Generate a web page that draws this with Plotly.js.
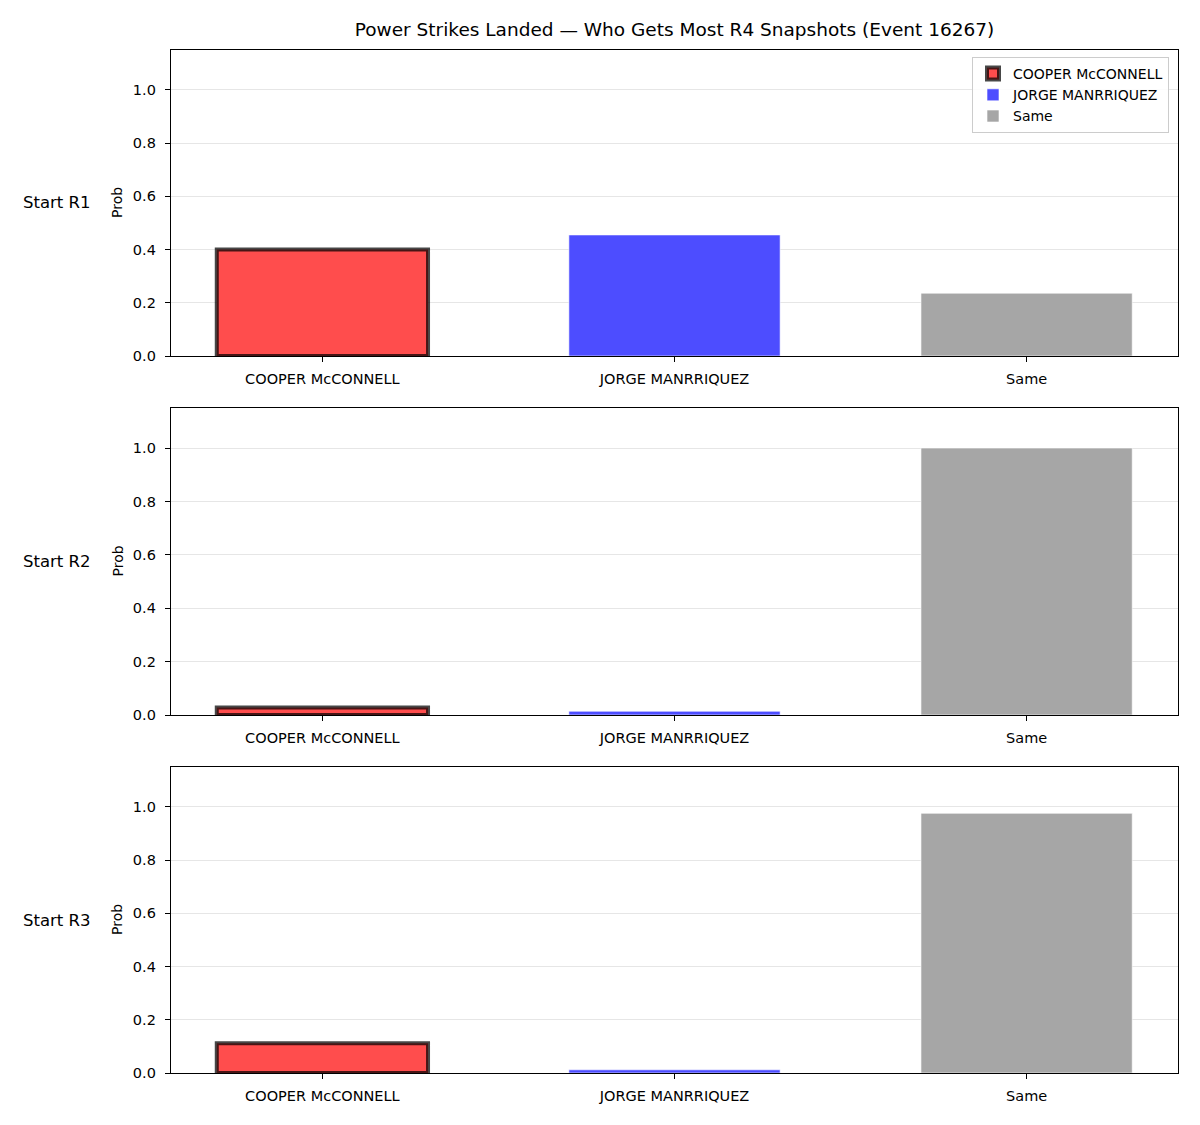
<!DOCTYPE html>
<html>
<head>
<meta charset="utf-8">
<script src="https://cdn.plot.ly/plotly-3.0.1.min.js"></script>
<style>html,body{margin:0;padding:0;background:#fff;}</style>
</head>
<body>
<div id="chart" style="width:1200px;height:1125px;"></div>
<script>
// Outcome categories shown on every panel
const categories = ["COOPER McCONNELL", "JORGE MANRRIQUEZ", "Same"];
// Snapshot rounds (one panel each)
const rowLabels = ["Start R1", "Start R2", "Start R3"];
// Probability per category, one array per starting round
const probR1 = [0.40, 0.455, 0.236];
const probR2 = [0.028, 0.014, 1.0];
const probR3 = [0.112, 0.012, 0.976];
const yTickVals = [0, 0.2, 0.4, 0.6, 0.8, 1.0];

const allProbs = [probR1, probR2, probR3];

const W = 1200, H = 1125;
const fontFam = "DejaVu Sans, sans-serif";
const fills = ["#ff4d4d", "#4d4dff", "#a6a6a6"];
const edges = [
  {color: "rgba(0,0,0,0.72)", width: 4},
  {color: "rgba(255,255,255,0.6)", width: 1},
  {color: "rgba(255,255,255,0.6)", width: 1}
];

// panel pixel extents (top, bottom)
const panels = [[50, 356], [408, 715], [767, 1073]];
const xDom = [171 / W, 1178 / W];

const traces = [];
allProbs.forEach((vals, p) => {
  const sfx = p === 0 ? "" : String(p + 1);
  categories.forEach((cat, i) => {
    traces.push({
      type: "bar",
      x: [cat],
      y: [vals[i]],
      name: cat,
      legendgroup: cat,
      showlegend: p === 0,
      width: 0.6,
      marker: {color: fills[i], line: edges[i]},
      xaxis: "x" + sfx,
      yaxis: "y" + sfx,
      hoverinfo: "x+y"
    });
  });
});

const layout = {
  width: W, height: H,
  margin: {l: 0, r: 0, t: 0, b: 0},
  paper_bgcolor: "#fff",
  plot_bgcolor: "#fff",
  barmode: "overlay",
  font: {family: fontFam, size: 14, color: "#000"},
  title: {
    text: "Power Strikes Landed — Who Gets Most R4 Snapshots (Event 16267)",
    font: {family: fontFam, size: 18.5, color: "#000"},
    x: 0.5 * (xDom[0] + xDom[1]), xanchor: "center",
    y: 1 - 30 / H, yanchor: "middle"
  },
  legend: {
    x: 1169 / W, xanchor: "right",
    y: 1 - 57 / H, yanchor: "top",
    bgcolor: "rgba(255,255,255,0.85)",
    bordercolor: "#cccccc", borderwidth: 1,
    font: {family: fontFam, size: 14, color: "#000"},
    tracegroupgap: 0
  },
  annotations: [],
  showlegend: true
};

panels.forEach((pp, p) => {
  const sfx = p === 0 ? "" : String(p + 1);
  const yDom = [1 - pp[1] / H, 1 - pp[0] / H];
  layout["xaxis" + sfx] = {
    domain: xDom,
    anchor: "y" + sfx,
    type: "category",
    categoryorder: "array",
    categoryarray: categories,
    range: [-0.43, 2.43],
    showline: true, mirror: true, linecolor: "#000", linewidth: 1.2,
    ticks: "outside", ticklen: 5, tickwidth: 1, tickcolor: "#000",
    ticklabelstandoff: 4,
    showgrid: false, zeroline: false,
    tickfont: {family: fontFam, size: 14.5, color: "#000"},
    fixedrange: true
  };
  layout["yaxis" + sfx] = {
    domain: yDom,
    anchor: "x" + sfx,
    range: [0, 1.15],
    tickvals: yTickVals,
    tickformat: ".1f",
    showline: true, mirror: true, linecolor: "#000", linewidth: 1.2,
    ticks: "outside", ticklen: 5, tickwidth: 1, tickcolor: "#000",
    ticklabelstandoff: 6,
    showgrid: true, gridcolor: "#e6e6e6", gridwidth: 1,
    zeroline: false,
    tickfont: {family: fontFam, size: 14.5, color: "#000"},
    fixedrange: true
  };
  const midY = 1 - ((pp[0] + pp[1]) / 2) / H;
  layout.annotations.push({
    xref: "paper", yref: "paper",
    x: 57 / W, y: midY, xanchor: "center", yanchor: "middle",
    text: rowLabels[p], showarrow: false,
    font: {family: fontFam, size: 16.5, color: "#000"}
  });
  layout.annotations.push({
    xref: "paper", yref: "paper",
    x: 117 / W, y: midY, xanchor: "center", yanchor: "middle",
    text: "Prob", textangle: -90, showarrow: false,
    font: {family: fontFam, size: 14, color: "#000"}
  });
});

Plotly.newPlot("chart", traces, layout, {displayModeBar: false, staticPlot: true});
</script>
</body>
</html>
